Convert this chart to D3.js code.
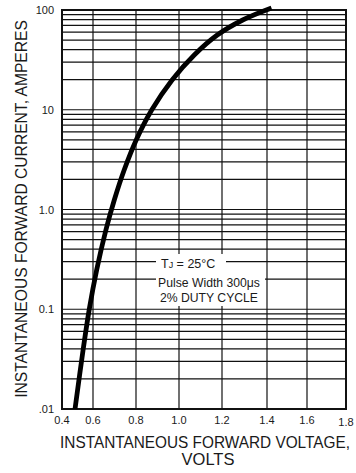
<!DOCTYPE html>
<html>
<head>
<meta charset="utf-8">
<script src="https://cdn.jsdelivr.net/npm/d3@7"></script>
<style>
  html, body { margin: 0; padding: 0; background: #fff; }
  text { font-family: "Liberation Sans", Arial, Helvetica, sans-serif; fill: #1a1a1a; }
</style>
</head>
<body>
<div class="canvas"></div>
<script>
// data
const voltage = [0.484, 0.536, 0.576, 0.617, 0.660, 0.699, 0.745, 0.801,
  0.873, 0.968, 1.071, 1.178, 1.292, 1.4225];
const current = [0.01, 0.039, 0.1, 0.247, 0.623, 1.245, 2.49, 4.98,
  9.94, 19.9, 35.4, 56.1, 79.4, 104.7];

const xTicks = [0.4, 0.6, 0.8, 1.0, 1.2, 1.4, 1.6, 1.8];
const xTickLabels = ['0.4', '0.6', '0.8', '1.0', '1.2', '1.4', '1.6', '1.8'];
const yTicks = [0.01, 0.1, 1, 10, 100];
const yTickLabels = ['.01', '0.1', '1.0', '10', '100'];
const decades = [0.01, 0.1, 1, 10];

const noteLines = ['Pulse Width 300\u03bcs', '2% DUTY CYCLE'];

const WIDTH = 356;
const HEIGHT = 473;
const plot = { left: 62, right: 346, top: 10, bottom: 409 };

const svg = d3.select('.canvas')
  .append('svg')
    .attr('width', WIDTH)
    .attr('height', HEIGHT);

svg.append('rect')
  .attr('width', WIDTH)
  .attr('height', HEIGHT)
  .attr('fill', '#fff');

// the printed grid is not evenly spaced, so follow it piece by piece
const x = d3.scaleLinear()
  .domain(xTicks)
  .range([62, 93, 136, 179, 222, 267, 307, 346]);

const y = d3.scaleLog()
  .domain([0.01, 100])
  .range([plot.bottom, plot.top]);

// minor log lines: 1..9 in each decade, plus the top
const yGrid = decades.flatMap(d => d3.range(1, 10).map(k => k * d)).concat([100]);

const grid = svg.append('g')
  .attr('stroke', '#111')
  .attr('stroke-width', 1.2);

grid.selectAll('line.h')
  .data(yGrid)
  .enter()
  .append('line')
    .attr('class', 'h')
    .attr('x1', plot.left)
    .attr('x2', plot.right)
    .attr('y1', d => y(d))
    .attr('y2', d => y(d));

grid.selectAll('line.v')
  .data(xTicks)
  .enter()
  .append('line')
    .attr('class', 'v')
    .attr('x1', d => x(d))
    .attr('x2', d => x(d))
    .attr('y1', plot.top)
    .attr('y2', plot.bottom);

// frame
svg.append('rect')
  .attr('x', plot.left)
  .attr('y', plot.top)
  .attr('width', plot.right - plot.left)
  .attr('height', plot.bottom - plot.top)
  .attr('fill', 'none')
  .attr('stroke', '#111')
  .attr('stroke-width', 2);

// note box knocks out the grid behind it
svg.append('rect')
  .attr('x', 156)
  .attr('y', 266)
  .attr('width', 109)
  .attr('height', 40)
  .attr('fill', '#fff');
svg.append('rect')
  .attr('x', 156)
  .attr('y', 254)
  .attr('width', 70)
  .attr('height', 15)
  .attr('fill', '#fff');

const tj = svg.append('text')
  .attr('x', 161)
  .attr('y', 268)
  .attr('font-size', 12.5);
tj.append('tspan').text('T');
tj.append('tspan').attr('font-size', 9).text('J');
tj.append('tspan').text(' = 25\u00b0C');

svg.selectAll('text.note')
  .data(noteLines)
  .enter()
  .append('text')
    .attr('class', 'note')
    .attr('x', 209)
    .attr('y', (d, i) => 287 + i * 15)
    .attr('text-anchor', 'middle')
    .attr('font-size', 12.2)
    .text(d => d);

// the curve
const points = voltage.map((v, i) => [v, current[i]]);
const line = d3.line()
  .x(d => x(d[0]))
  .y(d => y(d[1]))
  .curve(d3.curveCatmullRom.alpha(0.5));

svg.append('path')
  .datum(points)
  .attr('d', line)
  .attr('fill', 'none')
  .attr('stroke', '#000')
  .attr('stroke-width', 4.8)
  .attr('stroke-linecap', 'butt');

// tick labels
svg.selectAll('text.ytick')
  .data(yTicks)
  .enter()
  .append('text')
    .attr('class', 'ytick')
    .attr('x', 54)
    .attr('y', d => y(d) + 4)
    .attr('text-anchor', 'end')
    .attr('font-size', 11)
    .attr('fill', '#333')
    .text((d, i) => yTickLabels[i]);

svg.selectAll('text.xtick')
  .data(xTicks)
  .enter()
  .append('text')
    .attr('class', 'xtick')
    .attr('x', d => x(d))
    .attr('y', (d, i) => i === xTicks.length - 1 ? 426 : 424)
    .attr('text-anchor', 'middle')
    .attr('font-size', 11)
    .attr('fill', '#333')
    .text((d, i) => xTickLabels[i]);

// axis titles, squeezed horizontally to the narrow printed face
function squeezed(text, cx, cy, size, width, rotate) {
  const g = svg.append('g');
  const t = g.append('text')
    .attr('text-anchor', 'middle')
    .attr('font-size', size)
    .text(text);
  const natural = t.node().getComputedTextLength();
  const k = Math.min(1, width / natural);
  g.attr('transform', `translate(${cx},${cy}) rotate(${rotate}) scale(${k},1)`);
}

squeezed('INSTANTANEOUS FORWARD CURRENT, AMPERES', 27, 209, 17, 378, -90);
squeezed('INSTANTANEOUS FORWARD VOLTAGE,', 205, 448, 16.5, 290, 0);
squeezed('VOLTS', 208, 465, 16.5, 57, 0);
</script>
</body>
</html>
